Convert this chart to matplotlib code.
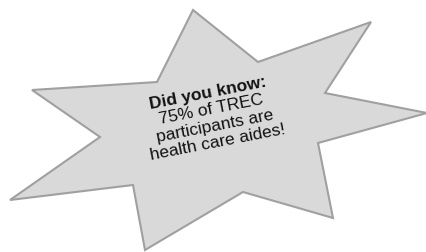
import matplotlib
matplotlib.use("Agg")
import matplotlib.pyplot as plt
from matplotlib.patches import Polygon
import numpy as np

# Starburst vertices (pixel coordinates, y downward)
star_x = [193, 258, 371, 325, 427, 318, 333, 243, 145, 133, 10, 100, 32, 157]
star_y = [10, 62, 22, 93, 113, 143, 218, 192, 250, 185, 200, 137, 90, 82]

lines = ["Did you know:", "75% of TREC", "participants are", "health care aides!"]
bold = [True, False, False, False]

fig = plt.figure(figsize=(4.27, 2.52), dpi=100)
ax = fig.add_axes([0, 0, 1, 1])
ax.set_xlim(0, 427)
ax.set_ylim(252, 0)
ax.axis("off")

poly = Polygon(list(zip(star_x, star_y)), closed=True, facecolor="#d9d9d9",
               edgecolor="#a0a0a0", linewidth=1.5, joinstyle="miter")
ax.add_patch(poly)

ang = np.deg2rad(11)
cx, cy = 213, 118
spacing = 16.5
for i, (t, b) in enumerate(zip(lines, bold)):
    off = (i - 1.5) * spacing
    x = cx + np.sin(ang) * off
    y = cy + np.cos(ang) * off
    ax.text(x, y, t, rotation=11, rotation_mode="anchor", ha="center", va="center",
            fontsize=12.5, fontweight="bold" if b else "normal",
            family="Liberation Sans", color="#111111")

fig.savefig("out.png", dpi=100)
